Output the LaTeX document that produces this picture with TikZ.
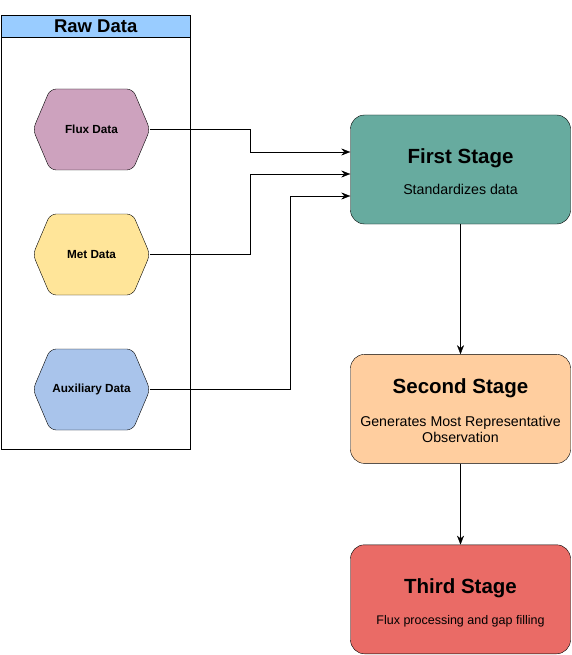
\documentclass[tikz,border=0pt]{standalone}
\usepackage{fontspec}
\setmainfont{Liberation Sans}
\usetikzlibrary{positioning}
\usetikzlibrary{arrows.meta}
\usetikzlibrary{shapes.symbols}

\definecolor{headblue}{HTML}{99CCFF}
\definecolor{fluxcol}{HTML}{CDA2BE}
\definecolor{metcol}{HTML}{FFE599}
\definecolor{auxcol}{HTML}{A9C4EB}
\definecolor{firstcol}{HTML}{67AB9F}
\definecolor{secondcol}{HTML}{FFCE9F}
\definecolor{thirdcol}{HTML}{EA6B66}

\newcommand{\stagetitle}{\bfseries\fontsize{20.5}{24}\selectfont}
\newcommand{\stagetext}{\fontsize{14.2}{17}\selectfont}
\newcommand{\toppad}[1]{\rule{0pt}{#1}}

\begin{document}
\begin{tikzpicture}[x=1pt, y=-1pt,
    hexa/.style = {draw, signal, signal to=east and west, signal from=nowhere, signal pointer angle=134, rounded corners=6pt, minimum width=117pt, minimum height=81pt, inner sep=0pt, font=\bfseries\fontsize{11.75}{14}\selectfont},
    stage/.style = {draw, rounded corners=14pt, minimum width=220pt, minimum height=109pt, align=center, inner sep=0pt},
    link/.style = {-{Stealth[length=9pt, width=7pt]}}]
    \useasboundingbox (0,0) rectangle (571,655);

    \node[draw, minimum width=189pt, minimum height=434pt, anchor=north west, inner sep=0pt] (raw) at (1,15) {};
    \node[draw, fill=headblue, minimum width=189pt, minimum height=22pt, anchor=north west, inner sep=0pt, font=\bfseries\fontsize{18.5}{21}\selectfont] (rawhead) at (1,15) {Raw Data};

    \node[hexa, fill=fluxcol] (flux) at (91.5,129.5) {Flux Data};
    \node[hexa, fill=metcol] (met) at (91.5,254.5) {Met Data};
    \node[hexa, fill=auxcol] (aux) at (91.5,389.5) {Auxiliary Data};

    \node[stage, fill=firstcol] (first) at (460.5,169.5) {\toppad{18.9pt}{\stagetitle First Stage}\\[15pt]{\stagetext Standardizes data}};
    \node[stage, fill=secondcol] (second) [below=130pt of first] {\toppad{17.9pt}{\stagetitle Second Stage}\\[18pt]{\stagetext Generates Most Representative}\\[1.6pt]{\stagetext Observation}};
    \node[stage, fill=thirdcol] (third) [below=81pt of second] {\toppad{21.9pt}{\stagetitle Third Stage}\\[16.8pt]{\fontsize{12.5}{15}\selectfont Flux processing and gap filling}};

    \draw[link] (flux.east) -- ++(100,0) |- ([yshift=17.5pt]first.west);
    \draw[link] (met.east) -- ++(100,0) |- ([yshift=-4.5pt]first.west);
    \draw[link] (aux.east) -- ++(140,0) |- ([yshift=-26.5pt]first.west);

    \draw[link] (first) -- (second);
    \draw[link] (second) -- (third);

\end{tikzpicture}
\end{document}
